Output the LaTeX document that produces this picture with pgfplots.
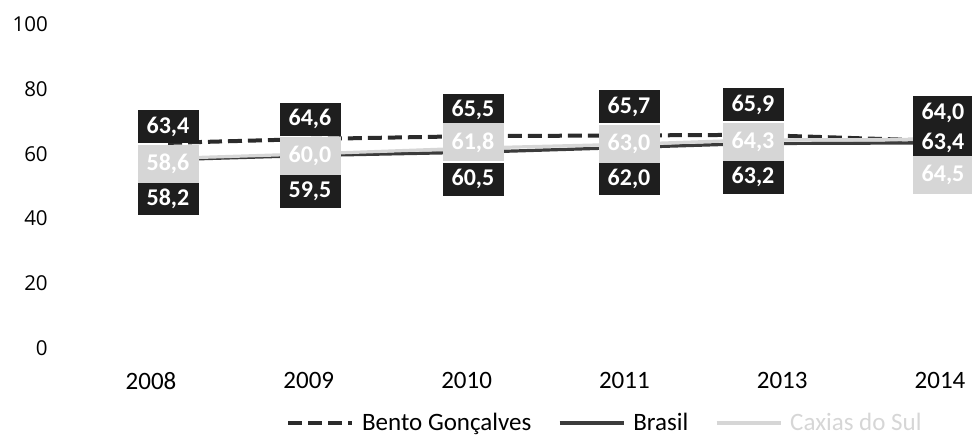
\documentclass[border=0pt]{standalone}
\usepackage{pgfplots}
\usepackage{pgfplotstable}
\pgfplotsset{compat=1.18}
\usepackage{fontspec}
\setmainfont{Carlito}
\newfontfamily\yfont{Open Sans}
\definecolor{dk}{HTML}{1E1E1E}
\definecolor{ln}{HTML}{2B2B2B}
\definecolor{br}{HTML}{3C3C3C}
\definecolor{lt}{HTML}{D6D6D6}

% x = horizontal position of each data point (chart pixels), dy = label offset (pixels)
\pgfplotstableread{
x   y     dy     lab
168 63.4  16.4   63,4
310 64.6  20.0   64,6
473 65.5  26.0   65,5
629 65.7  28.5   65,7
753 65.9  30.0   65,9
943 64.0  28.5   64,0
}\bento
\pgfplotstableread{
x   y     dy     lab
168 58.2  -39.0  58,2
310 59.5  -35.5  59,5
473 60.5  -27.0  60,5
629 62.0  -31.5  62,0
753 63.2  -33.5  63,2
943 63.4  0.4    63,4
}\brasil
\pgfplotstableread{
x   y     dy     lab
168 58.6  -5.6   58,6
310 60.0  -2.0   60,0
473 61.8  5.6    61,8
629 63.0  0.0    63,0
753 64.3  -2.0   64,3
943 64.5  -35.7  64,5
}\caxias

\begin{document}
\begin{tikzpicture}
\useasboundingbox (0pt,0pt) rectangle (729pt,330pt);
\begin{axis}[
  at={(41.25pt,69pt)}, anchor=south west,
  scale only axis, width=687.75pt, height=242.625pt,
  xmin=55, xmax=972, ymin=0, ymax=100,
  axis line style={draw=none},
  major tick length=0pt,
  xtick={151,308.8,466.6,624.4,782.2,940},
  xticklabels={2008,2009,2010,2011,2013,2014},
  ytick={0,20,40,60,80,100},
  clip=false,
  /pgf/number format/assume math mode=true,
  yticklabel style={font=\yfont\fontsize{15.4}{18}\selectfont, anchor=east, inner sep=0pt, xshift=-5.25pt},
  xticklabel style={font=\fontsize{18.75}{22}\selectfont, anchor=north, inner sep=0pt, yshift=-18pt},
  legend style={at={(0.6,-0.232)}, anchor=center, draw=none, fill=none,
    legend columns=3, font=\fontsize{18.75}{22}\selectfont,
    /tikz/every odd column/.append style={column sep=4pt},
    /tikz/every even column/.append style={column sep=18pt}},
  legend image code/.code={\draw[#1] (0pt,0pt) -- (48pt,0pt);},
]
\addplot[ln, line width=3pt, dash pattern=on 10.5pt off 4.5pt] table[x=x,y=y]{\bento};
\addlegendentry{Bento Gonçalves}
\addplot[br, line width=2.4pt] table[x=x,y=y]{\brasil};
\addlegendentry{Brasil}
\addplot[lt, line width=2.4pt] table[x=x,y=y]{\caxias};
\addlegendentry{\textcolor{lt}{Caxias do Sul}}

% data labels
\addplot[draw=none, forget plot, nodes near coords, point meta=explicit symbolic,
  visualization depends on={\thisrow{dy} \as \dy},
  nodes near coords style={anchor=center, fill=dk, text=white, inner sep=0pt,
    font=\bfseries\fontsize{18}{20}\selectfont,
    minimum width=45.75pt, minimum height=24.75pt, yshift=\dy*0.75pt}]
  table[x=x,y=y,meta=lab]{\bento};
\addplot[draw=none, forget plot, nodes near coords, point meta=explicit symbolic,
  visualization depends on={\thisrow{dy} \as \dy},
  nodes near coords style={anchor=center, fill=dk, text=white, inner sep=0pt,
    font=\bfseries\fontsize{18}{20}\selectfont,
    minimum width=45.75pt, minimum height=24.75pt, yshift=\dy*0.75pt}]
  table[x=x,y=y,meta=lab]{\brasil};
\addplot[draw=none, forget plot, nodes near coords, point meta=explicit symbolic,
  visualization depends on={\thisrow{dy} \as \dy},
  nodes near coords style={anchor=center, fill=lt, text=white, inner sep=0pt,
    font=\bfseries\fontsize{18}{20}\selectfont,
    minimum width=45.75pt, minimum height=28.5pt, yshift=\dy*0.75pt}]
  table[x=x,y=y,meta=lab]{\caxias};
\end{axis}
\end{tikzpicture}
\end{document}
